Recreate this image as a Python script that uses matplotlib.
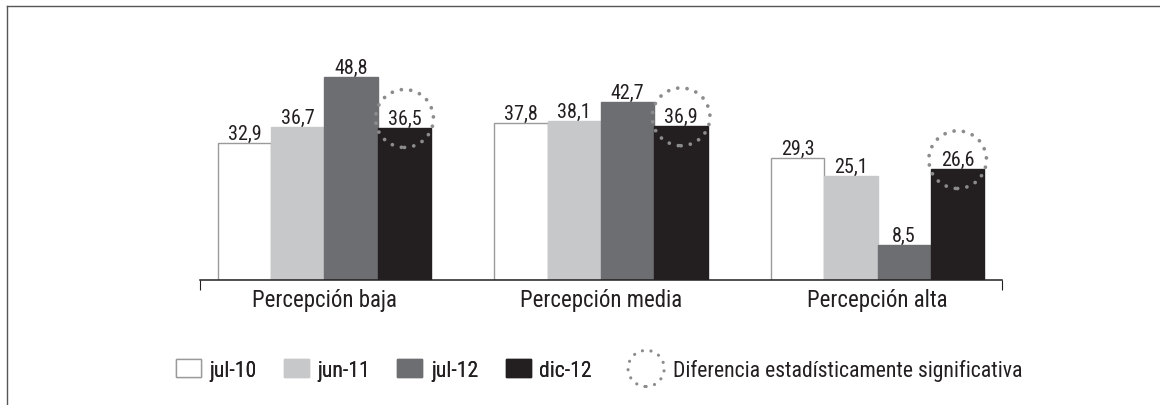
import matplotlib
matplotlib.use('Agg')
import numpy as np
import matplotlib.pyplot as plt
from matplotlib.patches import Patch, Circle
from matplotlib.lines import Line2D
from matplotlib.legend_handler import HandlerBase

plt.rcParams['font.family'] = ['Roboto Condensed', 'Archivo Narrow', 'DejaVu Sans']

categories = ['Percepción baja', 'Percepción media', 'Percepción alta']
series = ['jul-10', 'jun-11', 'jul-12', 'dic-12']
values = {
    'jul-10': [32.9, 37.8, 29.3],
    'jun-11': [36.7, 38.1, 25.1],
    'jul-12': [48.8, 42.7, 8.5],
    'dic-12': [36.5, 36.9, 26.6],
}
significant = {'dic-12': [True, True, True]}
legend_note = 'Diferencia estadísticamente significativa'

colors = {'jul-10': '#ffffff', 'jun-11': '#c7c8ca', 'jul-12': '#6d6e71', 'dic-12': '#231f20'}
edges = {'jul-10': '#9a9a9a', 'jun-11': '#c7c8ca', 'jul-12': '#6d6e71', 'dic-12': '#231f20'}
dot_color = '#8c8c8c'
ink = '#231f20'


class HandlerDottedCircle(HandlerBase):
    def create_artists(self, legend, orig_handle, xdescent, ydescent,
                       width, height, fontsize, trans):
        c = Circle((width / 2 - xdescent, height / 2 - ydescent), width / 2,
                   fc='none', ec=dot_color, lw=2.3, ls=(0, (0.01, 2.7)),
                   capstyle='round', transform=trans)
        return [c]


fig = plt.figure(figsize=(11.6, 4.06), dpi=100)
ax = fig.add_axes([0.1724, 0.3079, 0.6914, 0.6148])

x = np.arange(len(categories))
w = 0.193
for i, s in enumerate(series):
    pos = x + (i - 1.5) * w
    ax.bar(pos, values[s], width=w, color=colors[s], edgecolor=edges[s],
           linewidth=1.0)
    flags = significant.get(s, [False] * len(categories))
    for xp, v, sig in zip(pos, values[s], flags):
        label = f'{v:.1f}'.replace('.', ',')
        kw = {}
        if sig:
            kw['bbox'] = dict(boxstyle='circle,pad=0.6', fc='none', ec=dot_color,
                              lw=2.7, ls=(0, (0.01, 2.5)), capstyle='round')
        ax.annotate(label, (xp, v), xytext=(0, 3), textcoords='offset points',
                    ha='center', va='baseline', fontsize=14.5, color=ink, **kw)

xlim = (-0.45, 2.45)
ax.set_xlim(*xlim)
ax.set_ylim(0, 60)
for side in ['left', 'right', 'top']:
    ax.spines[side].set_visible(False)
ax.spines['bottom'].set_color(ink)
ax.spines['bottom'].set_linewidth(1.1)
ax.yaxis.set_visible(False)

ax.set_xticks(list(xlim))
ax.set_xticklabels(['', ''])
ax.set_xticks(x, minor=True)
ax.set_xticklabels(categories, minor=True, fontsize=16.5, color=ink)
ax.tick_params(axis='x', which='major', length=7.5, width=0.8, color=ink, direction='out')
ax.tick_params(axis='x', which='minor', length=0, pad=6)

# outer frame (left and top edges)
fig.add_artist(Line2D([0.006, 0.006], [0, 0.983], transform=fig.transFigure,
                      color='#555555', lw=1.0))
fig.add_artist(Line2D([0.006, 1.0], [0.983, 0.983], transform=fig.transFigure,
                      color='#555555', lw=1.0))

handles = [Patch(facecolor=colors[s], edgecolor=edges[s], linewidth=1.0) for s in series]
leg1 = fig.legend(handles, series, loc='center left', bbox_to_anchor=(0.1515, 0.0862),
                  ncol=4, frameon=False, fontsize=15.7, handlelength=1.15,
                  handleheight=0.83, handletextpad=0.4, columnspacing=1.24,
                  borderpad=0, borderaxespad=0, labelcolor=ink)
dummy = Circle((0, 0), 1)
leg2 = fig.legend([dummy], [legend_note], loc='center left',
                  bbox_to_anchor=(0.5414, 0.0862), frameon=False, fontsize=15.7,
                  handlelength=1.66, handleheight=0.83, handletextpad=0.4,
                  borderpad=0, borderaxespad=0, labelcolor=ink,
                  handler_map={Circle: HandlerDottedCircle()})
fig.add_artist(leg1)

fig.savefig('out.png', dpi=100)
